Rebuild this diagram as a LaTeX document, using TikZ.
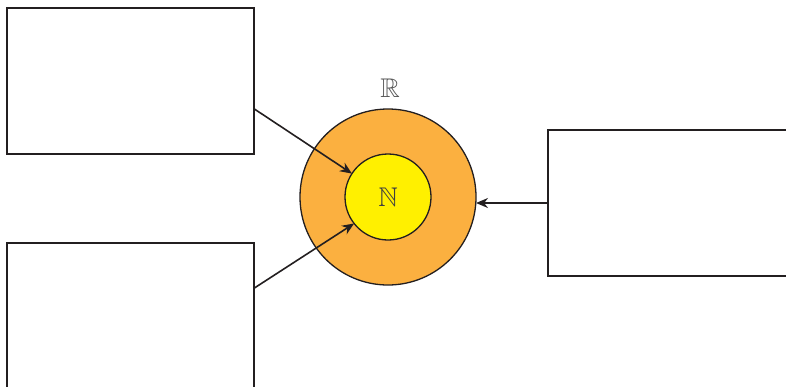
\documentclass[tikz,border=0pt]{standalone}
\usepackage{amssymb}
\usetikzlibrary{arrows.meta,calc}
\definecolor{ringorange}{RGB}{251,176,64}
\definecolor{coreyellow}{RGB}{255,240,0}
\definecolor{inkline}{RGB}{35,31,32}
\begin{document}
\begin{tikzpicture}[x=1pt,y=-1pt,
  emptybox/.style={draw=inkline,line width=2pt,fill=white,minimum width=247pt,minimum height=146pt,inner sep=0pt,outer sep=0pt},
  ring/.style={circle,draw=inkline,line width=1.3pt,inner sep=0pt,outer sep=0pt},
  link/.style={draw=inkline,line width=1.6pt,-{Stealth[length=12pt,width=10pt]}},
  setlabel/.style={font=\fontsize{27}{31}\selectfont}]
\useasboundingbox (0,0) rectangle (786,386);
\clip (0,0) rectangle (786,386);
\node[emptybox] (b1) at (130.5,81) {};
\node[emptybox] (b2) at (130.5,316) {};
\node[emptybox,minimum width=260pt] (b3) at (678,203) {};
\node[ring,fill=ringorange,minimum size=176pt] (outer) at (388,197) {};
\node[ring,fill=coreyellow,minimum size=86pt,text=black!75,setlabel] (inner) at (388,197) {$\mathbb{N}$};
\node[setlabel,text=black!65] (rlab) at (390,88) {$\mathbb{R}$};
\coordinate (s1) at ($(b1.north east)!0.69!(b1.south east)$);
\coordinate (s2) at ($(b2.north east)!0.31!(b2.south east)$);
\draw[link] (s1) -- (inner.147);
\draw[link] (s2) -- (inner.218);
\draw[link] (b3.west) -- (b3.west -| outer.east);
\end{tikzpicture}
\end{document}
